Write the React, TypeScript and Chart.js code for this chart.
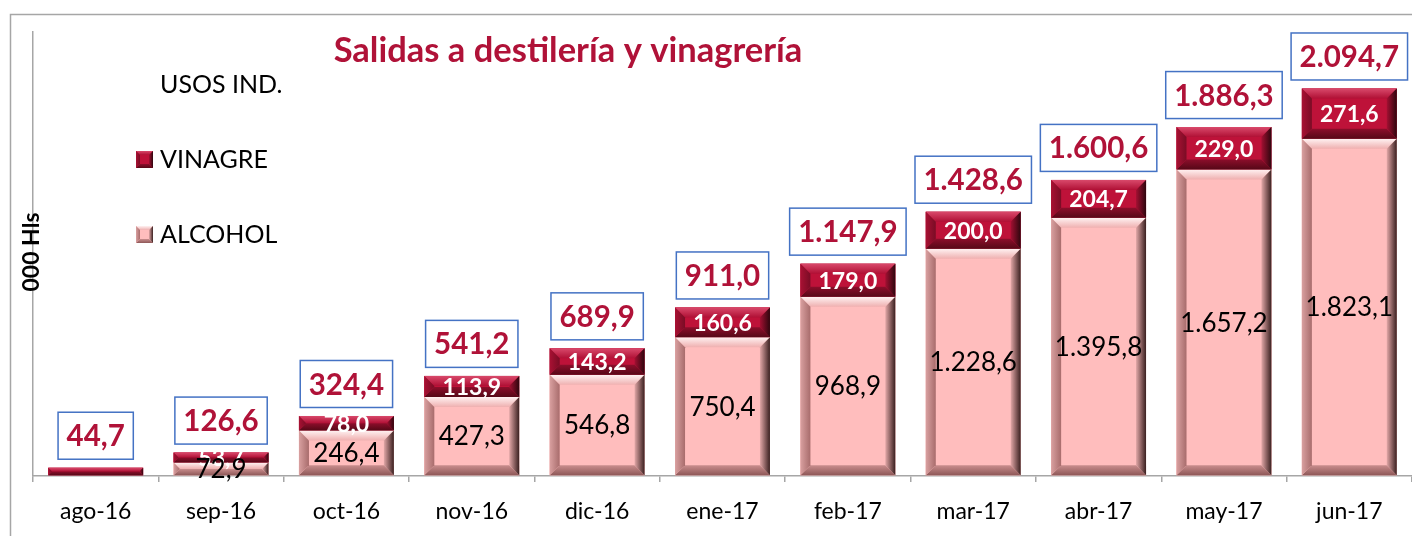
import React, { useEffect, useRef } from 'react';
import { Chart, registerables } from 'chart.js';

Chart.register(...registerables);

const categories = ['ago-16', 'sep-16', 'oct-16', 'nov-16', 'dic-16', 'ene-17', 'feb-17', 'mar-17', 'abr-17', 'may-17', 'jun-17'];
const alcohol = [0, 72.9, 246.4, 427.3, 546.8, 750.4, 968.9, 1228.6, 1395.8, 1657.2, 1823.1];
const vinagre = [44.7, 53.7, 78.0, 113.9, 143.2, 160.6, 179.0, 200.0, 204.7, 229.0, 271.6];
const alcoholLabels = ['', '72,9', '246,4', '427,3', '546,8', '750,4', '968,9', '1.228,6', '1.395,8', '1.657,2', '1.823,1'];
const vinagreLabels = ['', '53,7', '78,0', '113,9', '143,2', '160,6', '179,0', '200,0', '204,7', '229,0', '271,6'];
const totalLabels = ['44,7', '126,6', '324,4', '541,2', '689,9', '911,0', '1.147,9', '1.428,6', '1.600,6', '1.886,3', '2.094,7'];

const TITLE = 'Salidas a destilería y vinagrería';
const LEGEND_HEADER = 'USOS IND.';
const SERIES_ALCOHOL = 'ALCOHOL';
const SERIES_VINAGRE = 'VINAGRE';
const Y_TITLE = '000 Hls';

const FONT = 'Lato, "Open Sans", sans-serif';
const CRIMSON = '#B01238';

type Pal = {
  face: string;
  topO: string; topI: string;
  botO: string; botI: string;
  leftO: string; leftI: string;
  rightO: string; rightI: string;
};

const ALC: Pal = {
  face: '#FFBDBD',
  topO: '#FFF2F2', topI: '#EFB0B0',
  botO: '#8E5858', botI: '#C98D8D',
  leftO: '#D9A0A0', leftI: '#A86C6C',
  rightO: '#3A2020', rightI: '#E2A7A7',
};

const VIN: Pal = {
  face: '#BE1239',
  topO: '#D9496B', topI: '#B01035',
  botO: '#560817', botI: '#8C0E2B',
  leftO: '#A81133', leftI: '#7A0C25',
  rightO: '#2E060E', rightI: '#A31032',
};

function bevelBox(ctx: CanvasRenderingContext2D, x1: number, x2: number, top: number, bot: number, bw: number, pal: Pal) {
  const h = bot - top;
  const w = x2 - x1;
  if (h <= 0 || w <= 0) return;
  const b = Math.max(0, Math.min(bw, h / 2, w / 2));
  ctx.save();
  ctx.fillStyle = pal.face;
  ctx.fillRect(x1, top, w, h);
  const poly = (pts: number[][], fill: CanvasGradient | string) => {
    ctx.beginPath();
    ctx.moveTo(pts[0][0], pts[0][1]);
    for (let i = 1; i < pts.length; i++) ctx.lineTo(pts[i][0], pts[i][1]);
    ctx.closePath();
    ctx.fillStyle = fill;
    ctx.fill();
  };
  if (b > 0.5) {
    let g = ctx.createLinearGradient(0, top, 0, top + b);
    g.addColorStop(0, pal.topO); g.addColorStop(1, pal.topI);
    poly([[x1, top], [x2, top], [x2 - b, top + b], [x1 + b, top + b]], g);
    g = ctx.createLinearGradient(0, bot, 0, bot - b);
    g.addColorStop(0, pal.botO); g.addColorStop(1, pal.botI);
    poly([[x1, bot], [x2, bot], [x2 - b, bot - b], [x1 + b, bot - b]], g);
    g = ctx.createLinearGradient(x1, 0, x1 + b, 0);
    g.addColorStop(0, pal.leftO); g.addColorStop(1, pal.leftI);
    poly([[x1, top], [x1 + b, top + b], [x1 + b, bot - b], [x1, bot]], g);
    g = ctx.createLinearGradient(x2, 0, x2 - b, 0);
    g.addColorStop(0, pal.rightO); g.addColorStop(1, pal.rightI);
    poly([[x2, top], [x2 - b, top + b], [x2 - b, bot - b], [x2, bot]], g);
  }
  ctx.restore();
}

const decoPlugin = {
  id: 'deco',
  beforeDraw(chart: any) {
    const ctx = chart.ctx as CanvasRenderingContext2D;
    ctx.save();
    ctx.fillStyle = '#FFFFFF';
    ctx.fillRect(0, 0, chart.width, chart.height);
    ctx.strokeStyle = '#A6A6A6';
    ctx.lineWidth = 1.5;
    ctx.strokeRect(10.5, 14.5, chart.width + 20, chart.height + 20);
    ctx.restore();
  },
  afterDatasetsDraw(chart: any) {
    const ctx = chart.ctx as CanvasRenderingContext2D;
    const metas = [chart.getDatasetMeta(0), chart.getDatasetMeta(1)];
    metas.forEach((meta: any, di: number) => {
      meta.data.forEach((el: any) => {
        const p = el.getProps(['x', 'y', 'base', 'width'], true);
        const top = Math.min(p.y, p.base);
        const bot = Math.max(p.y, p.base);
        bevelBox(ctx, p.x - p.width / 2, p.x + p.width / 2, top, bot, 10, di === 0 ? ALC : VIN);
      });
    });
    ctx.save();
    ctx.textAlign = 'center';
    ctx.textBaseline = 'middle';
    // vinagre labels
    ctx.font = `bold 23px ${FONT}`;
    ctx.fillStyle = '#FFFFFF';
    metas[1].data.forEach((el: any, i: number) => {
      const t = vinagreLabels[i];
      if (!t) return;
      const p = el.getProps(['x', 'y', 'base'], true);
      ctx.fillText(t, p.x, (p.y + p.base) / 2 + 1);
    });
    // alcohol labels
    ctx.font = `26px ${FONT}`;
    ctx.fillStyle = '#000000';
    metas[0].data.forEach((el: any, i: number) => {
      const t = alcoholLabels[i];
      if (!t) return;
      const p = el.getProps(['x', 'y', 'base'], true);
      ctx.fillText(t, p.x, (p.y + p.base) / 2 + 1);
    });
    // total boxes
    ctx.font = `bold 29.5px ${FONT}`;
    metas[1].data.forEach((el: any, i: number) => {
      const t = totalLabels[i];
      const p = el.getProps(['x', 'y'], true);
      const tw = ctx.measureText(t).width;
      const bwid = tw + 17;
      const bh = 47;
      const by = p.y - 8.5 - bh;
      ctx.fillStyle = '#FFFFFF';
      ctx.fillRect(p.x - bwid / 2, by, bwid, bh);
      ctx.strokeStyle = '#4472C4';
      ctx.lineWidth = 1.5;
      ctx.strokeRect(p.x - bwid / 2, by, bwid, bh);
      ctx.fillStyle = CRIMSON;
      ctx.fillText(t, p.x, by + bh / 2 + 1);
    });
    ctx.restore();
  },
  afterDraw(chart: any) {
    const ctx = chart.ctx as CanvasRenderingContext2D;
    ctx.save();
    // title
    ctx.font = `bold 34.5px ${FONT}`;
    ctx.fillStyle = CRIMSON;
    ctx.textAlign = 'center';
    ctx.textBaseline = 'middle';
    ctx.fillText(TITLE, 568, 51);
    // legend
    ctx.font = `25px ${FONT}`;
    ctx.fillStyle = '#000000';
    ctx.textAlign = 'left';
    ctx.fillText(LEGEND_HEADER, 160, 85);
    bevelBox(ctx, 136, 153, 151, 168, 4, VIN);
    ctx.fillStyle = '#000000';
    ctx.fillText(SERIES_VINAGRE, 160, 160);
    bevelBox(ctx, 136, 153, 226, 243, 4, ALC);
    ctx.fillStyle = '#000000';
    ctx.fillText(SERIES_ALCOHOL, 160, 235);
    // y title
    ctx.translate(31, 252);
    ctx.rotate(-Math.PI / 2);
    ctx.textAlign = 'center';
    ctx.font = `bold 23px ${FONT}`;
    ctx.fillText(Y_TITLE, 0, 1);
    ctx.restore();
  },
};

export default function App() {
  const ref = useRef<HTMLCanvasElement | null>(null);
  useEffect(() => {
    if (!ref.current) return;
    const chart = new Chart(ref.current, {
      type: 'bar',
      data: {
        labels: categories,
        datasets: [
          { label: SERIES_ALCOHOL, data: alcohol, backgroundColor: ALC.face, borderWidth: 0, barPercentage: 0.757, categoryPercentage: 1 },
          { label: SERIES_VINAGRE, data: vinagre, backgroundColor: VIN.face, borderWidth: 0, barPercentage: 0.757, categoryPercentage: 1 },
        ],
      },
      options: {
        responsive: false,
        animation: false,
        devicePixelRatio: 1,
        layout: { padding: { top: 32, left: 0, right: 0, bottom: 0 } },
        plugins: { legend: { display: false }, tooltip: { enabled: false }, title: { display: false } },
        scales: {
          x: {
            stacked: true,
            offset: true,
            afterFit: (s: any) => { s.height = 60; },
            grid: { display: true, drawOnChartArea: false, drawTicks: true, tickLength: 6, color: '#A6A6A6', offset: true, lineWidth: 1.5 },
            border: { display: true, color: '#A6A6A6', width: 1.5 },
            ticks: { color: '#000000', font: { family: FONT, size: 23 }, padding: 16, maxRotation: 0, autoSkip: false },
          },
          y: {
            stacked: true,
            min: 0,
            max: 2400,
            afterFit: (s: any) => { s.width = 33; },
            ticks: { display: false, stepSize: 500 },
            grid: {
              drawTicks: false,
              lineWidth: 1.5,
              color: (c: any) => (c.tick && c.tick.value > 0 && c.tick.value % 500 === 0 ? '#C4C4C4' : 'rgba(0,0,0,0)'),
            },
            border: { display: true, color: '#A6A6A6', width: 1.5, dash: [5, 4] },
          },
        },
      },
      plugins: [decoPlugin],
    } as any);
    return () => chart.destroy();
  }, []);
  return (
    <div style={{ position: 'absolute', left: 0, top: 0, width: 1412, height: 536 }}>
      <canvas ref={ref} width={1412} height={536} style={{ display: 'block' }} />
    </div>
  );
}
